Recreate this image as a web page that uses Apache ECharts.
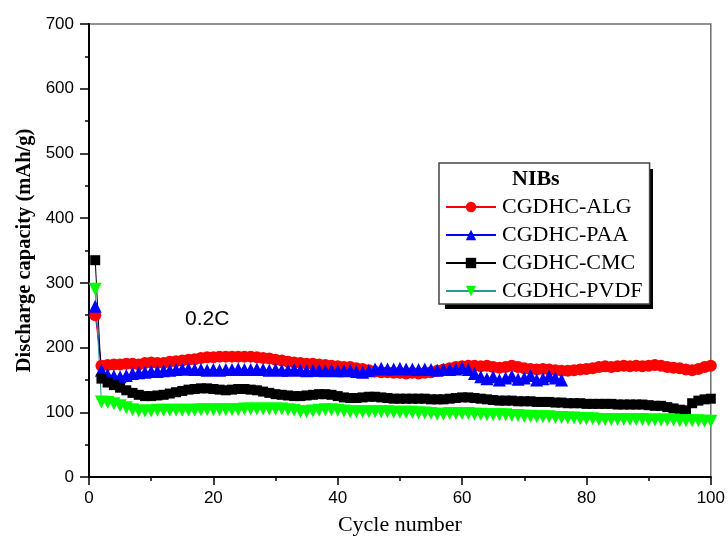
<!DOCTYPE html>
<html>
<head>
<meta charset="utf-8">
<script src="https://cdn.jsdelivr.net/npm/echarts@6/dist/echarts.min.js"></script>
<style>html,body{margin:0;padding:0;background:#fff;}#c{width:728px;height:541px;}</style>
</head>
<body>
<div id="c"></div>
<script>
var seriesNames = ['CGDHC-ALG', 'CGDHC-PAA', 'CGDHC-CMC', 'CGDHC-PVDF'];
var xTicks = [0, 20, 40, 60, 80, 100];
var yTicks = [0, 100, 200, 300, 400, 500, 600, 700];

var alg = [250,172,173,174,174,175,175,174,176,177,176,176,178,179,180,181,182,184,185,185,
  186,186,186,186,186,186,185,184,183,181,180,178,177,176,175,175,174,173,172,171,
  170,170,168,167,165,163,162,162,161,161,160,161,160,161,162,164,166,168,170,171,
  172,172,171,172,170,169,170,172,170,168,167,166,167,166,165,164,164,165,166,167,
  168,170,171,170,171,172,171,172,171,172,173,172,170,169,168,166,165,167,170,172];
var paa = [264,165,158,156,155,157,160,161,162,163,163,164,165,166,167,167,166,166,165,166,
  165,166,166,167,166,166,167,166,165,166,165,165,166,165,164,165,165,164,165,164,
  164,165,163,162,164,167,168,167,167,168,167,167,166,167,166,165,166,166,167,169,
  166,160,155,152,155,150,153,156,151,153,157,150,152,156,153,150];
var cmc = [335,152,146,142,138,134,130,127,125,125,126,127,129,131,133,135,136,137,137,136,
  135,134,135,136,136,135,134,132,130,128,127,126,125,125,126,127,128,128,127,125,
  123,122,122,123,124,124,123,122,121,121,121,121,121,121,120,120,120,121,122,123,
  123,122,121,120,119,118,118,118,117,117,117,116,116,116,115,115,114,114,114,113,
  113,113,113,113,112,112,112,112,112,111,110,110,108,106,104,103,114,118,120,121];
var pvdf = [290,116,115,113,110,107,104,102,102,102,103,103,103,103,103,103,103,104,104,104,
  104,104,104,104,105,105,105,105,105,105,105,104,103,101,101,102,103,104,104,103,
  102,101,101,101,101,101,101,101,100,100,100,100,99,99,98,97,97,98,98,98,
  98,97,97,96,96,96,96,95,95,94,94,93,93,93,92,92,91,91,90,90,
  90,89,89,89,89,89,89,89,89,88,88,88,88,88,87,87,87,87,86,86];

function pairs(arr){ return arr.map(function(v,i){ return [i+1, v]; }); }

var chart = echarts.init(document.getElementById('c'), null, {renderer:'canvas'});
var serifFont = '"Liberation Serif","Times New Roman",serif';
var sansFont = '"Liberation Sans",Arial,sans-serif';

function mkSeries(name, data, color, lineColor, symbol, size, rotate){
  return {
    name: name, type: 'line', data: pairs(data),
    symbol: symbol, symbolSize: size, symbolRotate: rotate || 0,
    showSymbol: true, showAllSymbol: true,
    lineStyle: {color: lineColor, width: 1},
    itemStyle: {color: color, borderWidth: 0},
    emphasis: {disabled: true}
  };
}

chart.setOption({
  animation: false,
  backgroundColor: '#fff',
  grid: {left: 89, right: 17, top: 24, bottom: 60, show: true, borderColor: '#6e6e6e', borderWidth: 1.5, containLabel: false},
  graphic: [
    {type: 'rect', z: 1, shape: {x: 445, y: 169, width: 208, height: 140}, style: {fill: '#000'}}
  ],
  title: [
    {text: 'NIBs', left: 512, top: 168, z: 10, textStyle: {fontFamily: serifFont, fontWeight: 'bold', fontSize: 22, color: '#000'}, padding: 0},
    {text: '0.2C', left: 185, top: 309, textStyle: {fontFamily: sansFont, fontWeight: 'normal', fontSize: 21, color: '#000'}, padding: 0}
  ],
  legend: {
    data: seriesNames,
    orient: 'vertical',
    left: 439, top: 163, z: 5,
    padding: [33, 7, 2, 6],
    itemWidth: 50, itemHeight: 13, itemGap: 6,
    backgroundColor: '#fff', borderColor: '#444', borderWidth: 1.5,
    textStyle: {fontFamily: serifFont, fontSize: 22, color: '#000', lineHeight: 22, padding: [0,0,0,1]},
    selectedMode: false
  },
  xAxis: {
    type: 'value', min: 0, max: 100, interval: 20,
    name: 'Cycle number', nameLocation: 'middle', nameGap: 37,
    nameTextStyle: {fontFamily: serifFont, fontSize: 22, color: '#000'},
    axisLine: {show: true, onZero: false, lineStyle: {color: '#000', width: 2}},
    axisTick: {show: true, inside: false, length: 8, lineStyle: {color: '#000', width: 1.5}},
    minorTick: {show: true, splitNumber: 2, length: 4, lineStyle: {color: '#000', width: 1.5}},
    axisLabel: {fontFamily: sansFont, fontSize: 17, color: '#000', margin: 13,
      formatter: function(v){ return xTicks.indexOf(v) >= 0 ? String(v) : ''; }},
    splitLine: {show: false}
  },
  yAxis: {
    type: 'value', min: 0, max: 700, interval: 100,
    name: 'Discharge capacity (mAh/g)', nameLocation: 'middle', nameGap: 53, nameRotate: 90,
    nameTextStyle: {fontFamily: serifFont, fontSize: 20.5, fontWeight: 'bold', color: '#000'},
    axisLine: {show: true, onZero: false, lineStyle: {color: '#000', width: 2}},
    axisTick: {show: true, inside: false, length: 9, lineStyle: {color: '#000', width: 1.5}},
    minorTick: {show: true, splitNumber: 2, length: 4, lineStyle: {color: '#000', width: 1.5}},
    axisLabel: {fontFamily: sansFont, fontSize: 17, color: '#000', margin: 15,
      formatter: function(v){ return yTicks.indexOf(v) >= 0 ? String(v) : ''; }},
    splitLine: {show: false}
  },
  series: [
    mkSeries(seriesNames[0], alg, '#ff0000', '#ff0000', 'circle', 12),
    mkSeries(seriesNames[1], paa, '#0000ff', '#0000ff', 'triangle', 13),
    mkSeries(seriesNames[2], cmc, '#000000', '#000000', 'rect', 10),
    mkSeries(seriesNames[3], pvdf, '#00ff00', '#2f9696', 'triangle', 13, 180)
  ]
});
</script>
</body>
</html>
